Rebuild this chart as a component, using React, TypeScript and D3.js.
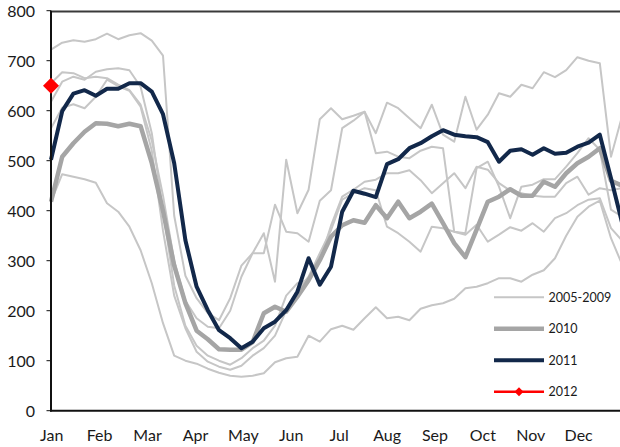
import React from 'react';
import * as d3 from 'd3';

const months = ['Jan', 'Feb', 'Mar', 'Apr', 'May', 'Jun', 'Jul', 'Aug', 'Sep', 'Oct', 'Nov', 'Dec'];
const yTicks = [0, 100, 200, 300, 400, 500, 600, 700, 800];

// 2005-2009 (five light grey weekly series)
const histA = [722,736,741,738,743,754,743,751,755,740,710,390,270,225,195,181,225,290,315,355,258,502,395,442,583,605,583,590,598,555,616,605,585,565,612,552,538,628,562,592,635,628,652,645,677,667,681,707,700,695,508,590];
const histB = [655,677,675,665,668,665,652,641,612,540,430,300,220,185,168,165,200,268,315,315,412,358,355,338,420,441,565,580,598,515,518,508,505,520,528,525,358,355,485,498,448,385,448,452,463,463,488,515,545,522,402,388];
const histC = [618,658,668,662,678,683,685,681,648,555,400,250,170,130,110,100,92,105,125,140,170,230,255,262,300,370,428,442,458,462,475,475,481,461,435,455,475,445,488,482,455,440,435,430,428,428,455,468,432,445,441,445];
const histD = [565,606,613,605,628,662,649,640,608,520,360,230,165,118,98,88,82,90,110,125,150,200,240,268,315,361,422,435,445,441,368,355,338,318,368,365,358,352,372,338,352,367,360,375,358,385,395,411,422,425,365,340];
const histE = [418,473,468,463,456,415,398,368,321,255,175,110,100,94,84,76,70,68,70,75,97,105,108,150,138,163,170,162,185,207,185,188,181,204,211,215,224,245,248,255,265,265,258,272,281,305,350,388,408,420,345,292];
const series2010 = [418,508,535,558,575,574,569,574,569,495,400,290,215,160,143,123,122,122,137,195,208,198,228,261,301,348,371,381,376,411,385,418,385,398,414,375,335,307,362,418,428,443,430,430,458,448,475,495,508,525,460,450];
const series2011 = [502,599,634,641,630,644,644,655,655,638,593,495,341,248,201,161,145,125,138,165,178,201,238,305,252,288,398,440,434,427,493,503,525,535,549,561,552,549,547,537,498,520,523,512,525,514,516,528,536,552,465,375];
const series2012 = [650];

const legendLabels = ['2005-2009', '2010', '2011', '2012'];

const LIGHT = '#c6c6c6';
const MID = '#a5a5a5';
const NAVY = '#12284a';
const RED = '#ff0000';
const FONT = 'Lato, "Open Sans", sans-serif';

export default function App() {
  const W = 620, H = 447;
  const x = d3.scaleLinear().domain([0, 51]).range([51, 622.2]);
  const y = d3.scaleLinear().domain([0, 800]).range([410.7, 10.7]);
  const mx = d3.scalePoint<string>().domain(months).range([51.7, 578.7]);
  const line = d3.line<number>().x((_, i) => x(i)).y(d => y(d));
  const diamond = (cx: number, cy: number, r: number) =>
    `M${cx},${cy - r}L${cx + r},${cy}L${cx},${cy + r}L${cx - r},${cy}Z`;

  const hist = [histA, histB, histC, histD, histE];
  const legY = d3.scalePoint<string>().domain(legendLabels).range([297.3, 391.7]);
  const legStyles = [
    { c: LIGHT, w: 2 },
    { c: MID, w: 4.5 },
    { c: NAVY, w: 4 },
    { c: RED, w: 2.5 },
  ];

  return (
    <svg width={W} height={H} style={{ position: 'absolute', left: 0, top: 0, background: '#fff' }}
      fontFamily={FONT}>
      <rect x={0} y={0} width={W} height={H} fill="#fff" />
      {/* top border */}
      <line x1={51} x2={W} y1={11.5} y2={11.5} stroke="#3a3a3a" strokeWidth={1.8} />
      {hist.map((s, k) => (
        <path key={k} d={line(s) || ''} fill="none" stroke={LIGHT} strokeWidth={2} strokeLinejoin="round" />
      ))}
      <path d={line(series2010) || ''} fill="none" stroke={MID} strokeWidth={4.5} strokeLinejoin="round" />
      <path d={line(series2011) || ''} fill="none" stroke={NAVY} strokeWidth={4} strokeLinejoin="round" />
      {/* axes */}
      <line x1={51} x2={51} y1={10.7} y2={411.5} stroke="#111" strokeWidth={2} />
      <line x1={50} x2={W} y1={410.7} y2={410.7} stroke="#111" strokeWidth={2} />
      {series2012.map((v, i) => (
        <path key={i} d={diamond(x(i), y(v), 8)} fill={RED} />
      ))}
      {yTicks.map(t => (
        <g key={t}>
          <line x1={46.5} x2={51} y1={y(t)} y2={y(t)} stroke="#111" strokeWidth={1} />
          <text x={35} y={y(t)} textAnchor="end" dominantBaseline="central" fontSize={16} fill="#1a1a1a">{t}</text>
        </g>
      ))}
      {months.map(m => (
        <text key={m} x={mx(m)} y={434} textAnchor="middle" dominantBaseline="central" fontSize={16} fill="#1a1a1a">{m}</text>
      ))}
      {/* legend */}
      {legendLabels.map((l, k) => (
        <g key={l}>
          <line x1={494} x2={544} y1={legY(l)} y2={legY(l)} stroke={legStyles[k].c} strokeWidth={legStyles[k].w} />
          {l === '2012' && <path d={diamond(519, legY(l) as number, 4.5)} fill={RED} />}
          <text x={548.5} y={legY(l)} dominantBaseline="central" fontSize={12.5} fill="#1a1a1a">{l}</text>
        </g>
      ))}
    </svg>
  );
}
